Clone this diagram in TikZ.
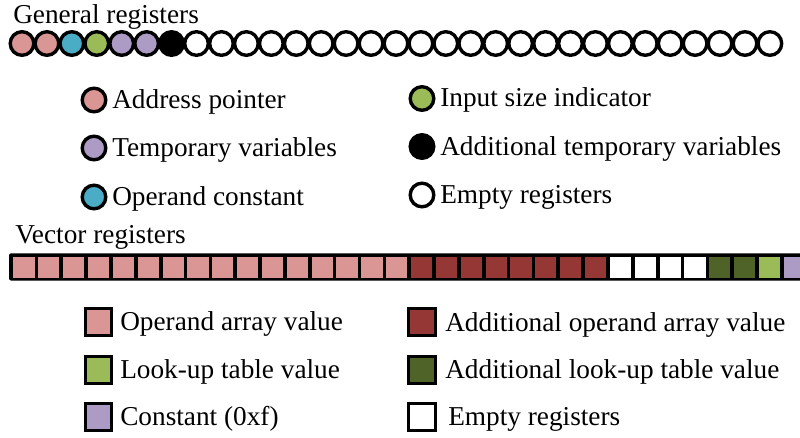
\documentclass[tikz,border=0pt]{standalone}
\usepackage{fontspec}
\setmainfont{Liberation Serif}
\usepackage{xcolor}

\definecolor{addrcol}{HTML}{D99694}
\definecolor{constcol}{HTML}{4BACC6}
\definecolor{sizecol}{HTML}{9BBB59}
\definecolor{tmpcol}{HTML}{AC9CC5}
\definecolor{darkredcol}{HTML}{953735}
\definecolor{darkgreencol}{HTML}{4F6228}

\tikzset{
	greg/.style={circle, draw=black, line width=2.4pt, minimum size=0.59cm, inner sep=0pt},
	vreg/.style={rectangle, minimum width=0.53cm, minimum height=0.52cm, inner sep=0pt},
	vkey/.style={rectangle, draw=black, line width=2.4pt, minimum size=0.66cm, inner sep=0pt},
	label text/.style={anchor=base west, inner sep=0pt, font=\fontsize{19.4}{23}\selectfont}
}

\begin{document}
\begin{tikzpicture}[x=0.025cm, y=-0.025cm]
	\useasboundingbox (0,0) rectangle (800,437);
	
	% general registers
	\node [label text] (gentitle) at (13,23) {General registers};
	\foreach \c [count=\i from 0] in {addrcol,addrcol,constcol,sizecol,tmpcol,tmpcol,black}
		\node [greg, fill=\c] (g\i) at (22+24.93*\i,43.5) {};
	\foreach \i in {7,...,30}
		\node [greg, fill=white] (g\i) at (22+24.93*\i,43.5) {};
	
	\node [greg, fill=addrcol] (kaddr) at (94,100) {};
	\node [label text] (taddr) at (112,108) {Address pointer};
	\node [greg, fill=tmpcol] (ktmp) at (94,148) {};
	\node [label text] (ttmp) at (112,156.5) {Temporary variables};
	\node [greg, fill=constcol] (kconst) at (94,197) {};
	\node [label text] (tconst) at (112,205) {Operand constant};
	
	\node [greg, fill=sizecol] (ksize) at (422,98.5) {};
	\node [label text] (tsize) at (440,106.7) {Input size indicator};
	\node [greg, fill=black] (kaddtmp) at (422,146.5) {};
	\node [label text] (taddtmp) at (440,155) {Additional temporary variables};
	\node [greg, fill=white] (kempty) at (422,195) {};
	\node [label text] (tempty) at (440,203) {Empty registers};
	
	% vector registers
	\node [label text] (vectitle) at (15,243) {Vector registers};
	\fill [black, rounded corners=1.5pt] (9,253.3) rectangle (815,280.5);
	\foreach \c [count=\i from 0] in {addrcol,addrcol,addrcol,addrcol,addrcol,addrcol,addrcol,addrcol,
		addrcol,addrcol,addrcol,addrcol,addrcol,addrcol,addrcol,addrcol,
		darkredcol,darkredcol,darkredcol,darkredcol,darkredcol,darkredcol,darkredcol,darkredcol,
		white,white,white,white,darkgreencol,darkgreencol,sizecol,tmpcol}
		\node [vreg, fill=\c] (v\i) at (24+24.85*\i,267.2) {};
	
	\node [vkey, fill=addrcol] (kop) at (98.5,322) {};
	\node [label text] (top) at (120,330.7) {Operand array value};
	\node [vkey, fill=sizecol] (klut) at (98.5,370) {};
	\node [label text] (tlut) at (120,378) {Look-up table value};
	\node [vkey, fill=tmpcol] (kfix) at (98.5,417) {};
	\node [label text] (tfix) at (120,425) {Constant (0xf)};
	
	\node [vkey, fill=darkredcol] (kaddop) at (422,322) {};
	\node [label text] (taddop) at (445,331.5) {Additional operand array value};
	\node [vkey, fill=darkgreencol] (kaddlut) at (422,370) {};
	\node [label text] (taddlut) at (445,378) {Additional look-up table value};
	\node [vkey, fill=white] (kvempty) at (422,417) {};
	\node [label text] (tvempty) at (448,425) {Empty registers};
\end{tikzpicture}
\end{document}
